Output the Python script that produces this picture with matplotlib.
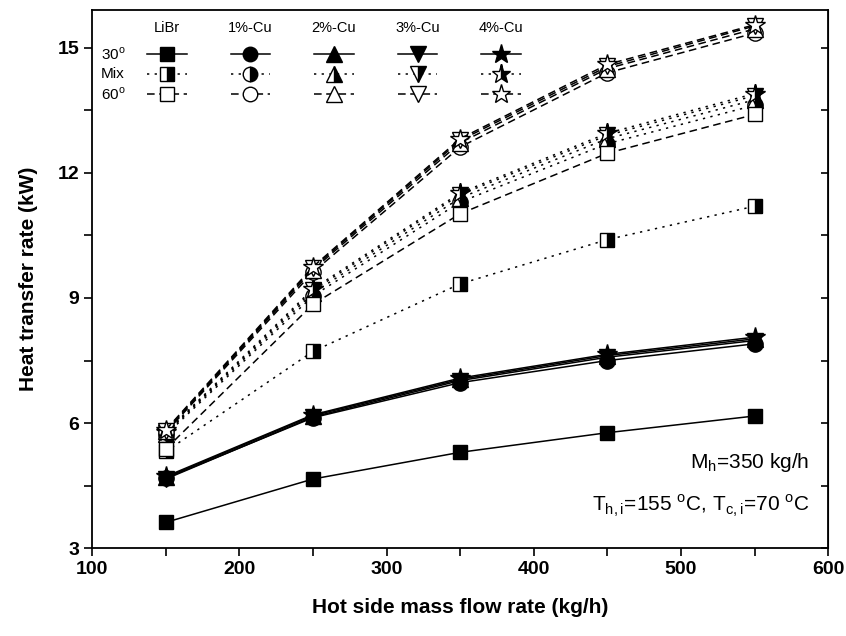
import numpy as np
import matplotlib
matplotlib.use("Agg")
import matplotlib.pyplot as plt
from matplotlib.lines import Line2D
from matplotlib.ticker import MultipleLocator

plt.rcParams['font.family'] = ['Liberation Sans', 'DejaVu Sans']
plt.rcParams['mathtext.fontset'] = 'custom'
plt.rcParams['mathtext.rm'] = 'Liberation Sans'

# hot side mass flow rate (kg/h)
flow = [150, 250, 350, 450, 550]

fluids = ['LiBr', '1%-Cu', '2%-Cu', '3%-Cu', '4%-Cu']
angles = ['30$^{\\mathrm{o}}$', 'Mix', '60$^{\\mathrm{o}}$']

# heat transfer rate (kW), one list per fluid
q_30 = {
    'LiBr':  [3.62, 4.66, 5.30, 5.77, 6.17],
    '1%-Cu': [4.68, 6.13, 6.97, 7.50, 7.90],
    '2%-Cu': [4.70, 6.18, 7.05, 7.62, 8.02],
    '3%-Cu': [4.66, 6.15, 7.02, 7.58, 7.98],
    '4%-Cu': [4.72, 6.20, 7.08, 7.65, 8.06],
}
q_mix = {
    'LiBr':  [5.32, 7.72, 9.34, 10.40, 11.20],
    '1%-Cu': [5.72, 9.05, 11.30, 12.70, 13.62],
    '2%-Cu': [5.75, 9.12, 11.40, 12.82, 13.75],
    '3%-Cu': [5.76, 9.18, 11.48, 12.90, 13.85],
    '4%-Cu': [5.78, 9.22, 11.52, 12.95, 13.90],
}
q_60 = {
    'LiBr':  [5.38, 8.85, 11.02, 12.47, 13.40],
    '1%-Cu': [5.78, 9.62, 12.62, 14.40, 15.35],
    '2%-Cu': [5.80, 9.68, 12.72, 14.50, 15.45],
    '3%-Cu': [5.82, 9.72, 12.78, 14.55, 15.52],
    '4%-Cu': [5.84, 9.75, 12.82, 14.60, 15.55],
}

markers = {'LiBr': 's', '1%-Cu': 'o', '2%-Cu': '^', '3%-Cu': 'v', '4%-Cu': '*'}
msizes = {'LiBr': 10, '1%-Cu': 11, '2%-Cu': 12, '3%-Cu': 12, '4%-Cu': 15}

styles = [
    dict(ls='-', fill='full', fc='black'),
    dict(ls=(0, (1.5, 3.5)), fill='right', fc='black'),
    dict(ls=(0, (5, 3)), fill='full', fc='white'),
]
groups = [q_30, q_mix, q_60]

fig = plt.figure(figsize=(8.46, 6.36), dpi=100)
ax = fig.add_axes([0.109, 0.138, 0.870, 0.846])

for g, st in zip(groups, styles):
    for f in fluids:
        ax.plot(flow, g[f], color='black', lw=1.1, ls=st['ls'],
                marker=markers[f], ms=msizes[f], fillstyle=st['fill'],
                markerfacecolor=st['fc'], markerfacecoloralt='white',
                markeredgecolor='black', markeredgewidth=1.0)

ax.set_xlim(100, 600)
ax.set_ylim(3, 15.9)
ax.xaxis.set_major_locator(MultipleLocator(100))
ax.xaxis.set_minor_locator(MultipleLocator(50))
ax.yaxis.set_major_locator(MultipleLocator(3))
ax.yaxis.set_minor_locator(MultipleLocator(1.5))
ax.tick_params(which='both', direction='out', length=6, width=1.2,
               labelsize=14, right=False, top=False)
for lab in ax.get_xticklabels() + ax.get_yticklabels():
    lab.set_fontweight('bold')
for sp in ax.spines.values():
    sp.set_linewidth(1.3)

# inward ticks on the right spine
sec = ax.secondary_yaxis('right')
sec.yaxis.set_major_locator(MultipleLocator(3))
sec.yaxis.set_minor_locator(MultipleLocator(1.5))
sec.tick_params(which='both', direction='in', length=5, width=1.2, labelright=False)

ax.set_xlabel('Hot side mass flow rate (kg/h)', fontsize=15, fontweight='bold', labelpad=14)
ax.set_ylabel('Heat transfer rate (kW)', fontsize=15, fontweight='bold', labelpad=14)

ax.text(0.975, 0.16, 'M$_{\\mathrm{h}}$=350 kg/h', transform=ax.transAxes,
        ha='right', va='center', fontsize=15)
ax.text(0.975, 0.078, 'T$_{\\mathrm{h,i}}$=155 $^{\\mathrm{o}}$C, T$_{\\mathrm{c,i}}$=70 $^{\\mathrm{o}}$C',
        transform=ax.transAxes, ha='right', va='center', fontsize=15)

# hand-built legend grid: rows = angle, columns = fluid
col_x0, col_dx = 0.1015, 0.1135
row_y0, row_dy = 0.918, 0.037
half = 0.027
for j, f in enumerate(fluids):
    cx = col_x0 + j * col_dx
    ax.text(cx, row_y0 + 0.048, f, transform=ax.transAxes, ha='center',
            va='center', fontsize=10.5)
    for i, st in enumerate(styles):
        cy = row_y0 - i * row_dy
        ln = Line2D([cx - half, cx + half], [cy, cy], transform=ax.transAxes,
                    color='black', lw=1.1, ls=st['ls'])
        mk = Line2D([cx], [cy], transform=ax.transAxes, ls='none',
                    marker=markers[f], ms=msizes[f] * 0.95, fillstyle=st['fill'],
                    markerfacecolor=st['fc'], markerfacecoloralt='white',
                    markeredgecolor='black', markeredgewidth=1.0)
        ax.add_line(ln)
        ax.add_line(mk)
for i, a in enumerate(angles):
    ax.text(0.012, row_y0 - i * row_dy, a, transform=ax.transAxes,
            ha='left', va='center', fontsize=11)

fig.savefig('out.png', dpi=100)
